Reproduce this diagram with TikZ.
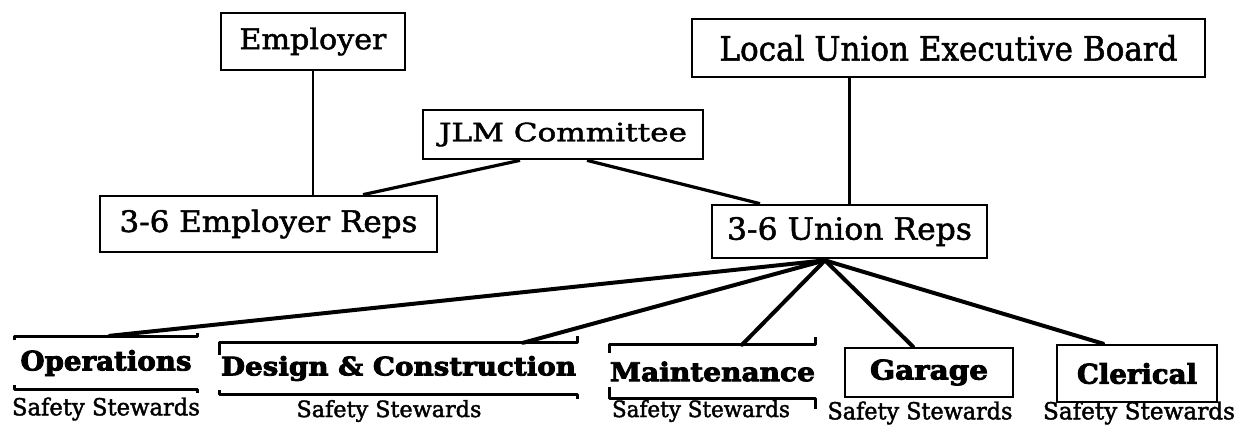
\documentclass[tikz,border=0pt]{standalone}
\usepackage{fontspec}
\setmainfont[FakeBold=1.6]{DejaVu Serif}
\newfontfamily\heavyfont[FakeBold=3.2]{DejaVu Serif Bold}
\newfontfamily\stewardfont[FakeBold=1.8]{DejaVu Serif}
\usepackage{graphicx}
\usetikzlibrary{calc}
% scale a label to a given width and total height (in pt)
\newcommand{\fitto}[3]{\resizebox*{#1pt}{#2pt}{#3}}
\begin{document}
\begin{tikzpicture}[x=1pt,y=-1pt,
  orgbox/.style={draw, line width=2.7pt, inner sep=0pt},
  unitbox/.style={inner sep=0pt, font=\heavyfont},
  stewards/.style={inner sep=0pt, font=\stewardfont},
  thinlink/.style={line width=2.2pt},
  midlink/.style={line width=3.2pt},
  fanlink/.style={line width=4pt, line cap=round},
  bracket/.style={line width=2.7pt, line join=round}]
\fill[white] (0,0) rectangle (1250,426);
\useasboundingbox (0,0) rectangle (1250,426);

% upper levels
\node[orgbox, minimum width=184pt, minimum height=57pt] (emp) at (313,41.5) {\fitto{147}{28}{Employer}};
\node[orgbox, minimum width=513pt, minimum height=58pt] (local) at (948.5,48) {\fitto{458}{26}{Local Union Executive Board}};
\node[orgbox, minimum width=280pt, minimum height=49pt] (jlm) at (563,134.5) {\fitto{248}{24}{JLM Committee}};
\node[orgbox, minimum width=337pt, minimum height=56pt] (emprep) at (268.5,224) {\fitto{298}{29}{3-6 Employer Reps}};
\node[orgbox, minimum width=275pt, minimum height=53pt] (union) at (849.5,231.5) {\fitto{245}{29}{3-6 Union Reps}};

% steward groups
\node[unitbox, minimum width=182pt, minimum height=52pt] (ops) at (106,363) {\fitto{171}{26}{Operations}};
\node[unitbox, minimum width=357pt, minimum height=51pt] (dc) at (398.5,368.5) {\fitto{355}{25}{Design \& Construction}};
\node[unitbox, minimum width=199pt, minimum height=53pt] (maint) at (712.5,371.5) {\fitto{205}{20}{Maintenance}};
\node[unitbox, draw, line width=2.7pt, minimum width=168pt, minimum height=49pt] (garage) at (929,372.5) {\fitto{118}{26}{Garage}};
\node[unitbox, draw, line width=2.7pt, minimum width=160pt, minimum height=57pt] (cler) at (1137,373.5) {\fitto{120}{21}{Clerical}};

\node[stewards] (opsst) at (106,409) {\fitto{188}{23}{Safety Stewards}};
\node[stewards] (dcst) at (389,411) {\fitto{185}{22}{Safety Stewards}};
\node[stewards] (maintst) at (701,411) {\fitto{178}{22}{Safety Stewards}};
\node[stewards] (garagest) at (920,413) {\fitto{185}{23}{Safety Stewards}};
\node[stewards] (clerst) at (1139,413) {\fitto{192}{23}{Safety Stewards}};

% open bracket outlines
\draw[bracket] ([yshift=-3pt]ops.north west) -- (ops.north west) -- (ops.north east) -- ++(0,-4);
\draw[bracket] ([yshift=4pt]ops.south west) -- (ops.south west) -- (ops.south east) -- ++(0,4);
\draw[bracket] ([yshift=-12pt]dc.north west) -- (dc.north west) -- (dc.north east) -- ++(0,-7);
\draw[bracket] ([yshift=4pt]dc.south west) -- (dc.south west) -- (dc.south east) -- ++(0,5);
\draw[bracket] ([yshift=-8pt]maint.north west) -- (maint.north west) -- (maint.north east) -- ++(0,-8);
\draw[bracket] ([yshift=11pt]maint.south west) -- (maint.south west) -- (maint.south east) -- ++(0,11);

% connectors
\draw[thinlink] (emp.south) -- (emp.south |- emprep.north);
\draw[thinlink] (union.north |- local.south) -- (union.north);
\coordinate (jlmL) at ($(jlm.south)+(-43,0)$);
\coordinate (jlmR) at ($(jlm.south)+(24,0)$);
\coordinate (empIn) at ($(emprep.north)+(94.5,0)$);
\coordinate (unIn) at ($(union.north)+(-89.5,0)$);
\draw[midlink] (jlmL) -- (empIn);
\draw[midlink] (jlmR) -- (unIn);

\coordinate (fan) at ($(union.south)+(-24.5,1)$);
\coordinate (opsIn) at ($(ops.north west)+(95,-1)$);
\coordinate (dcIn) at ($(dc.north)+(124.5,0)$);
\coordinate (maintIn) at ($(maint.north)+(29.5,0)$);
\coordinate (garageIn) at ($(garage.north)+(-16,0)$);
\coordinate (clerIn) at ($(cler.north)+(-34,0)$);
\foreach \t in {opsIn,dcIn,maintIn,garageIn,clerIn}
  \draw[fanlink] (fan) -- (\t);
\end{tikzpicture}
\end{document}
